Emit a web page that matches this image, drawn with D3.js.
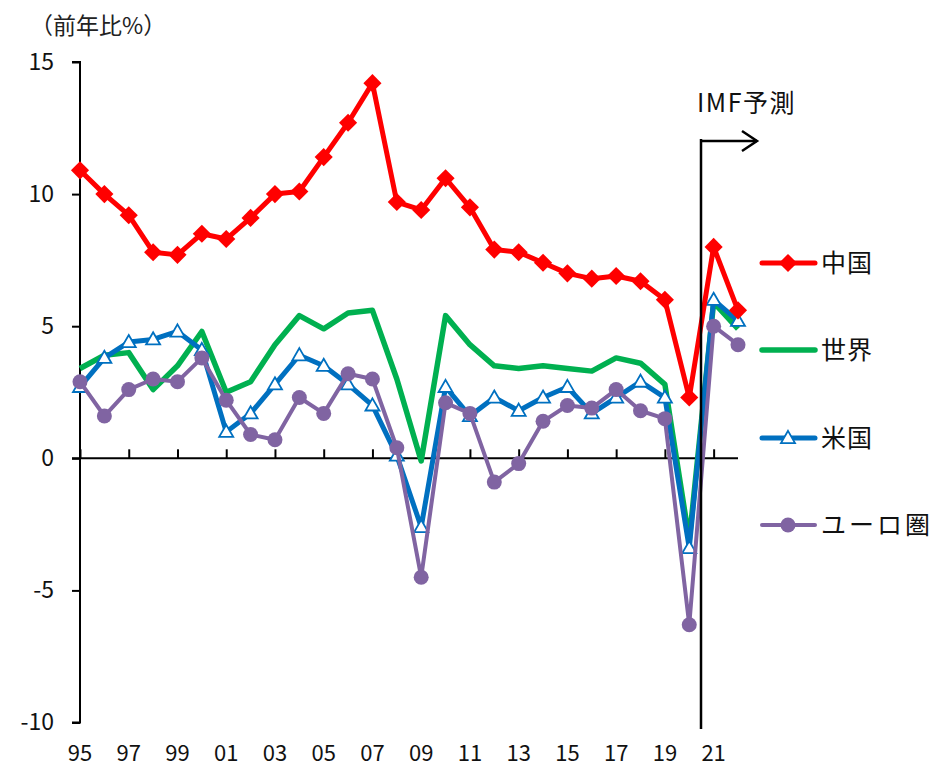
<!DOCTYPE html>
<html><head><meta charset="utf-8">
<script src="https://cdn.jsdelivr.net/npm/d3@7"></script>
<style>html,body{margin:0;padding:0;background:#fff;}svg{display:block;font-family:"Noto Sans CJK JP","Noto Sans",sans-serif;}</style>
</head><body>
<svg id="c" width="932" height="767"></svg>
<script>
const years = d3.range(1995, 2023);
const tickYears = [1995,1997,1999,2001,2003,2005,2007,2009,2011,2013,2015,2017,2019,2021];
const tickLabels = ["95","97","99","01","03","05","07","09","11","13","15","17","19","21"];
const yTicks = [-10,-5,0,5,10,15];
const china = [10.9,10.0,9.2,7.8,7.7,8.5,8.3,9.1,10.0,10.1,11.4,12.7,14.2,9.7,9.4,10.6,9.5,7.9,7.8,7.4,7.0,6.8,6.9,6.7,6.0,2.3,8.0,5.6];
const world = [3.4,3.9,4.0,2.6,3.5,4.8,2.5,2.9,4.3,5.4,4.9,5.5,5.6,3.0,-0.1,5.4,4.3,3.5,3.4,3.5,3.4,3.3,3.8,3.6,2.8,-3.1,5.9,4.9];
const us = [2.7,3.8,4.4,4.5,4.8,4.1,1.0,1.7,2.8,3.9,3.5,2.8,2.0,0.1,-2.6,2.7,1.6,2.3,1.8,2.3,2.7,1.7,2.3,2.9,2.3,-3.4,6.0,5.2];
const euro = [2.9,1.6,2.6,3.0,2.9,3.8,2.2,0.9,0.7,2.3,1.7,3.2,3.0,0.4,-4.5,2.1,1.7,-0.9,-0.2,1.4,2.0,1.9,2.6,1.8,1.5,-6.3,5.0,4.3];
const seriesNames = ["中国","世界","米国","ユーロ圏"];
const colors = {"中国":"#FF0000","世界":"#00B050","米国":"#0070C0","ユーロ圏":"#8064A2"};

const svg = d3.select("#c");
const x = d3.scaleLinear().domain([1995, 2022]).range([80, 738]);
const y = d3.scaleLinear().domain([-10, 15]).range([722.5, 62]);

// y axis
const yAxis = svg.append("g").attr("transform","translate(80,0)")
  .call(d3.axisLeft(y).tickValues(yTicks).tickSize(8).tickFormat(d => String(d)));
yAxis.select(".domain").attr("stroke","#000").attr("stroke-width",2).attr("d","M-8,"+y(15)+"H0V"+y(-10)+"H-8");
yAxis.selectAll(".tick line").attr("stroke","#000").attr("stroke-width",2);
yAxis.selectAll(".tick text").attr("font-size",23).attr("fill","#111").attr("x",-26)
  .attr("font-family","'Noto Sans CJK JP',sans-serif");

// x axis at zero
const xAxis = svg.append("g").attr("transform","translate(0,"+y(0)+")")
  .call(d3.axisTop(x).tickValues(tickYears).tickSize(9).tickFormat(""));
xAxis.select(".domain").attr("stroke","#000").attr("stroke-width",2).attr("d","M72,0H738");
xAxis.selectAll(".tick line").attr("stroke","#000").attr("stroke-width",2);

// x labels at bottom
svg.append("g").selectAll("text").data(tickYears).join("text")
  .attr("x", d => x(d)).attr("y", 761).attr("text-anchor","middle")
  .attr("font-size",22).attr("fill","#111").text((d,i)=>tickLabels[i]);

// title
svg.append("text").attr("x",30).attr("y",34).attr("font-size",23).attr("fill","#222").text("（前年比%）");

const line = d3.line().x((d,i)=>x(years[i])).y(d=>y(d));
const data = {"中国":china,"世界":world,"米国":us,"ユーロ圏":euro};
const order = ["世界","米国","ユーロ圏","中国"];
const lw = {"中国":5,"世界":5.5,"米国":5,"ユーロ圏":4};

function marker(g, name, cx, cy) {
  if (name === "中国") {
    g.append("path").attr("d", d3.symbol(d3.symbolDiamond2, 210)()).attr("transform","translate("+cx+","+cy+")")
      .attr("fill",colors[name]);
  } else if (name === "米国") {
    g.append("path").attr("d", d3.symbol(d3.symbolTriangle, 85)()).attr("transform","translate("+cx+","+(cy+1)+")")
      .attr("fill","#fff").attr("stroke",colors[name]).attr("stroke-width",1.8);
  } else if (name === "ユーロ圏") {
    g.append("circle").attr("cx",cx).attr("cy",cy).attr("r",7.5).attr("fill",colors[name]);
  }
}

order.forEach(name => {
  const g = svg.append("g");
  g.append("path").datum(data[name]).attr("d",line).attr("fill","none")
    .attr("stroke",colors[name]).attr("stroke-width",lw[name]).attr("stroke-linejoin","round");
  data[name].forEach((v,i)=>marker(g,name,x(years[i]),y(v)));
});

// IMF forecast annotation
svg.append("line").attr("x1",701).attr("x2",701).attr("y1",139).attr("y2",729).attr("stroke","#000").attr("stroke-width",2.5);
svg.append("line").attr("x1",701).attr("x2",757).attr("y1",141).attr("y2",141).attr("stroke","#000").attr("stroke-width",2.5);
svg.append("path").attr("d","M742,131L757,141L742,151").attr("fill","none").attr("stroke","#000").attr("stroke-width",2.5);
svg.append("text").attr("x",697).attr("y",112).attr("font-size",25).attr("fill","#111")
  .attr("letter-spacing",1.5).text("IMF予測");

// legend
const legY = [263,350,438,525];
seriesNames.forEach((name,i)=>{
  const g = svg.append("g");
  g.append("line").attr("x1",762).attr("x2",815).attr("y1",legY[i]).attr("y2",legY[i])
    .attr("stroke",colors[name]).attr("stroke-width",lw[name]).attr("stroke-linecap","round");
  marker(g,name,788,legY[i]);
  g.append("text").attr("x",821).attr("y",legY[i]+9).attr("font-size",25).attr("fill","#111")
    .attr("letter-spacing", name==="ユーロ圏"?3:1).text(name);
});
</script>
</body></html>
